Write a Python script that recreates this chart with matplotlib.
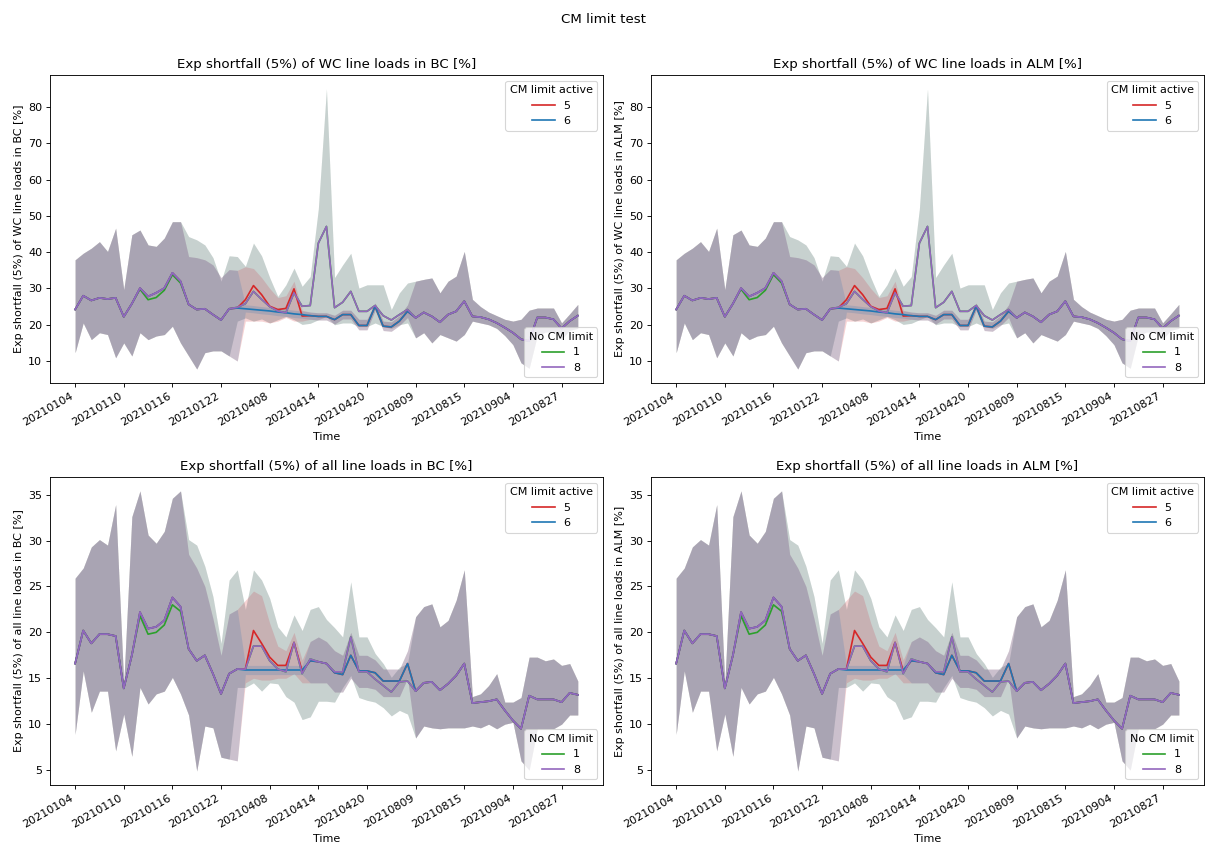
import matplotlib
matplotlib.use('Agg')
from matplotlib import pyplot as plt
import numpy as np

# categorical time axis (order as in the data files)
dates = ['20210104', '20210105', '20210106', '20210107', '20210108', '20210109', '20210110',
         '20210111', '20210112', '20210113', '20210114', '20210115', '20210116', '20210117',
         '20210118', '20210119', '20210120', '20210121', '20210122', '20210123', '20210124',
         '20210405', '20210406', '20210407', '20210408', '20210409', '20210410', '20210411',
         '20210412', '20210413', '20210414', '20210415', '20210416', '20210417', '20210418',
         '20210419', '20210420', '20210421', '20210422', '20210423', '20210424', '20210425',
         '20210809', '20210810', '20210811', '20210812', '20210813', '20210814', '20210815',
         '20210816', '20210817', '20210818', '20210819', '20210820', '20210904', '20210905',
         '20210906', '20210824', '20210825', '20210826', '20210827', '20210828', '20210829']

# ---- WC line loads (top row) ----
# scenario 8 (no CM limit), mean and band
wc_mean = [24.2, 28.0, 26.7, 27.4, 27.1, 27.4, 22.2, 25.8, 30.1, 27.8,
           28.8, 30.1, 34.3, 32.0, 25.6, 24.2, 24.4, 22.8, 21.3, 24.4,
           24.8, 25.8, 29.2, 27.0, 25.0, 23.8, 23.3, 28.8, 25.1, 25.3,
           42.5, 47.1, 24.7, 26.2, 29.2, 23.7, 23.7, 25.3, 22.5, 21.3,
           22.8, 24.2, 21.9, 23.4, 22.3, 20.7, 22.8, 23.7, 26.5, 22.3,
           22.1, 21.5, 20.5, 19.2, 17.8, 16.0, 15.5, 22.0, 22.0, 21.5,
           19.0, 21.0, 22.5]
wc_hi = [37.9, 39.7, 41.1, 42.9, 40.2, 46.6, 29.7, 44.8, 46.1, 42.0,
         41.6, 43.9, 48.4, 48.4, 44.3, 43.4, 42.0, 38.5, 32.0, 39.0,
         38.8, 36.1, 42.5, 39.0, 33.0, 27.8, 31.0, 35.6, 30.6, 33.3,
         52.0, 85.0, 33.0, 36.5, 39.7, 30.1, 31.0, 31.0, 31.0, 24.2,
         28.8, 31.5, 32.0, 32.5, 32.9, 28.8, 32.0, 33.4, 40.2, 27.0,
         25.0, 23.5, 22.5, 21.5, 21.0, 21.5, 24.0, 24.6, 24.6, 24.6,
         20.5, 23.0, 25.6]
wc_lo = [12.3, 20.5, 15.9, 17.8, 17.3, 10.9, 15.0, 11.4, 17.8, 15.9,
         16.9, 17.3, 19.6, 15.0, 11.4, 7.8, 12.3, 12.8, 12.8, 11.4,
         21.0, 21.9, 21.0, 21.6, 20.5, 21.4, 22.3, 21.4, 20.1, 20.4,
         21.4, 22.3, 20.0, 20.5, 20.5, 19.5, 19.5, 20.5, 19.5, 19.0,
         20.0, 20.5, 16.4, 17.8, 15.0, 17.3, 16.4, 15.5, 17.3, 21.0,
         20.5, 20.0, 19.0, 17.0, 14.5, 9.5, 8.0, 17.0, 18.0, 18.0,
         16.0, 18.5, 19.0]
# scenario 1 differs from 8 only around 20210112-20210117
wc1_mean_seg = [29.8, 26.9, 27.5, 29.5, 33.8, 31.5]
# scenario 6 from 20210118 to 20210425
wc6_mean_seg = [25.6, 24.2, 24.4, 22.8, 21.3, 24.4, 24.6, 24.4, 24.2, 24.0,
                23.8, 23.5, 23.3, 23.0, 22.8, 22.5, 22.3, 22.3, 21.4, 22.8,
                22.8, 19.8, 19.8, 25.1, 19.6, 19.4, 21.0, 23.7]
wc6_hi_seg = [38.8, 38.5, 37.9, 36.5, 33.0, 35.2, 35.0, 25.5, 25.3, 25.0,
              24.8, 24.5, 24.3, 24.0, 23.8, 23.5, 23.3, 23.3, 22.6, 24.0,
              24.0, 21.5, 21.5, 26.0, 21.0, 20.8, 22.5, 25.5]
wc6_lo_seg = [11.4, 7.8, 12.3, 12.8, 12.8, 11.4, 10.0, 23.5, 23.3, 23.0,
              22.8, 22.5, 22.3, 22.0, 21.8, 21.5, 21.3, 21.3, 20.2, 21.6,
              21.6, 18.6, 18.6, 24.0, 18.4, 18.2, 19.8, 22.0]
# scenario 5 from 20210118 to 20210412 (same as 6 afterwards)
wc5_mean_seg = [25.6, 24.2, 24.4, 22.8, 21.3, 24.4, 24.6, 26.9, 30.8, 28.3, 25.1, 24.2, 24.5, 29.9, 22.4]
wc5_hi_seg = [38.8, 38.5, 37.9, 36.5, 33.0, 35.2, 35.0, 36.0, 35.5, 33.0, 30.0, 27.5, 28.0, 32.0, 24.0]
wc5_lo_seg = [11.4, 7.8, 12.3, 12.8, 12.8, 11.4, 10.0, 21.0, 21.0, 21.0, 20.5, 21.0, 22.0, 21.0, 21.0]

# ---- all line loads (bottom row) ----
all_mean = [16.6, 20.2, 18.8, 19.8, 19.8, 19.6, 13.9, 17.5, 22.2, 20.4,
            20.6, 21.3, 23.8, 22.8, 18.2, 16.9, 17.5, 15.5, 13.3, 15.5,
            16.0, 16.0, 18.5, 18.5, 16.9, 16.0, 15.7, 18.9, 15.5, 17.1,
            16.8, 16.6, 15.7, 15.7, 19.5, 15.7, 15.7, 14.9, 14.2, 13.5,
            14.6, 14.7, 13.6, 14.5, 14.6, 13.7, 14.4, 15.3, 16.6, 12.3,
            12.4, 12.5, 12.7, 11.5, 10.4, 9.5, 13.1, 12.7, 12.7, 12.7,
            12.4, 13.4, 13.2]
all_hi = [25.9, 27.0, 29.3, 30.1, 29.5, 33.9, 14.4, 32.6, 35.4, 30.6,
          29.7, 31.0, 34.6, 35.4, 30.1, 29.5, 27.2, 23.9, 18.8, 25.7,
          26.8, 22.5, 26.8, 25.7, 23.7, 20.6, 19.5, 21.9, 20.2, 22.5,
          22.8, 21.4, 20.5, 19.5, 25.5, 19.5, 19.5, 17.7, 16.6, 15.1,
          16.2, 16.6, 21.7, 22.8, 23.1, 20.6, 21.3, 23.5, 26.8, 13.0,
          13.3, 14.2, 15.5, 12.4, 12.4, 12.9, 17.3, 17.3, 16.9, 17.1,
          16.4, 16.6, 14.7]
all_lo = [8.9, 15.8, 11.3, 13.6, 13.6, 7.1, 11.1, 6.5, 14.0, 12.2,
          13.3, 13.6, 15.1, 13.3, 11.0, 4.9, 9.8, 9.6, 6.4, 6.2,
          14.0, 14.0, 14.5, 13.6, 14.5, 14.4, 13.0, 12.4, 10.5, 10.8,
          12.5, 12.5, 12.4, 14.0, 15.3, 12.9, 12.6, 12.4, 11.8, 10.9,
          11.5, 11.1, 8.5, 9.8, 9.6, 9.5, 9.6, 9.6, 9.6, 9.8,
          9.6, 10.0, 9.5, 10.0, 10.2, 6.0, 5.0, 9.5, 9.5, 9.5,
          10.0, 11.0, 11.0]
all1_mean_seg = [21.8, 19.8, 20.0, 20.8, 23.0, 22.3]
all6_mean_seg = [18.2, 16.9, 17.5, 15.5, 13.3, 15.5, 16.0, 15.9, 15.9, 15.9,
                 15.9, 15.9, 15.9, 15.9, 15.9, 16.9, 16.8, 16.6, 15.6, 15.4,
                 17.5, 15.8, 15.8, 15.6, 14.7, 14.7, 14.7, 16.6]
all6_hi_seg = [28.5, 27.0, 25.0, 21.5, 17.5, 22.0, 22.5, 16.4, 16.4, 16.4,
               16.4, 16.4, 16.4, 16.4, 16.4, 19.0, 19.5, 19.0, 18.0, 17.5,
               20.0, 17.5, 17.5, 17.0, 16.0, 16.0, 16.0, 18.0]
all6_lo_seg = [11.0, 4.9, 9.8, 9.6, 6.4, 6.2, 6.0, 15.4, 15.4, 15.4,
               15.4, 15.4, 15.4, 15.4, 15.4, 14.5, 14.5, 14.5, 13.5, 13.5,
               15.0, 14.0, 14.0, 13.8, 13.0, 13.0, 13.0, 15.0]
all5_mean_seg = [18.2, 16.9, 17.5, 15.5, 13.3, 15.5, 16.0, 16.0, 20.2, 18.8, 17.3, 16.4, 16.4, 18.9, 15.8]
all5_hi_seg = [28.5, 27.0, 25.0, 21.5, 17.5, 22.0, 22.5, 23.5, 24.5, 24.0, 21.0, 18.5, 18.0, 20.0, 17.0]
all5_lo_seg = [11.0, 4.9, 9.8, 9.6, 6.4, 6.2, 6.0, 14.5, 15.0, 14.8, 14.8, 15.0, 15.0, 15.5, 14.5]


def splice(base, seg, start):
    # replace part of a series by the values that differ for another scenario
    return base[:start] + seg + base[start + len(seg):]


def scenarios(mean, hi, lo, m1, m6, h6, l6, m5, h5, l5):
    s6 = (splice(mean, m6, 14), splice(hi, h6, 14), splice(lo, l6, 14))
    s5 = (splice(s6[0], m5, 14), splice(s6[1], h5, 14), splice(s6[2], l5, 14))
    s1 = (splice(mean, m1, 8), hi, lo)
    s8 = (mean, hi, lo)
    return {'1': s1, '5': s5, '6': s6, '8': s8}


wc_data = scenarios(wc_mean, wc_hi, wc_lo, wc1_mean_seg, wc6_mean_seg, wc6_hi_seg, wc6_lo_seg,
                    wc5_mean_seg, wc5_hi_seg, wc5_lo_seg)
all_data = scenarios(all_mean, all_hi, all_lo, all1_mean_seg, all6_mean_seg, all6_hi_seg, all6_lo_seg,
                     all5_mean_seg, all5_hi_seg, all5_lo_seg)

colors = {'1': 'tab:green', '5': 'tab:red', '6': 'tab:blue', '8': 'tab:purple'}

panels = [(wc_data, 'WC line loads', 'BC'), (wc_data, 'WC line loads', 'ALM'),
          (all_data, 'all line loads', 'BC'), (all_data, 'all line loads', 'ALM')]

x = np.arange(len(dates))

fig, axes = plt.subplots(2, 2, figsize=(15.0875, 10.6), dpi=80)
fig.subplots_adjust(left=0.0414, right=0.9975, top=0.9116, bottom=0.0743, wspace=0.087, hspace=0.305)
fig.suptitle('CM limit test', y=0.985)

for ax, (data, what, where) in zip(axes.flat, panels):
    lines = {}
    for key in ['1', '5', '6', '8']:
        m, h, l = data[key]
        ax.fill_between(x, l, h, color=colors[key], alpha=0.2, linewidth=0)
        lines[key], = ax.plot(x, m, color=colors[key], linewidth=1.5)
    name = 'Exp shortfall (5%) of ' + what + ' in ' + where + ' [%]'
    ax.set_title(name)
    ax.set_ylabel(name)
    ax.set_xlabel('Time')
    ax.set_xticks(x[::6])
    ax.set_xticklabels(dates[::6], rotation=30, ha='right')
    leg1 = ax.legend([lines['5'], lines['6']], ['5', '6'], title='CM limit active', loc='upper right')
    ax.add_artist(leg1)
    ax.legend([lines['1'], lines['8']], ['1', '8'], title='No CM limit', loc='lower right')

plt.savefig('out.png')
